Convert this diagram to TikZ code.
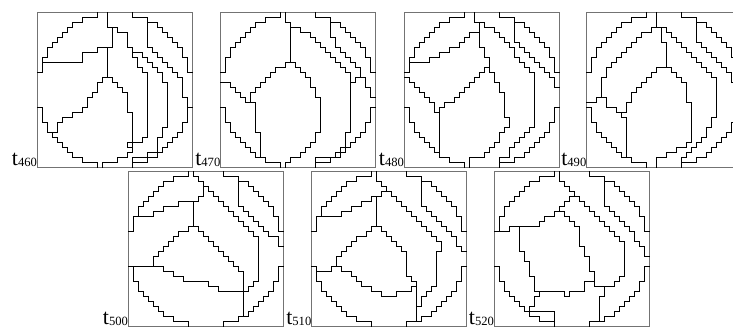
\documentclass[tikz,border=0pt]{standalone}
\usepackage{fontspec}
\setmainfont{Liberation Serif}
\tikzset{
  cell/.style={line width=.7pt,line cap=rect,line join=miter},
  frame/.style={draw=black!55,line width=.45pt},
  lbl/.style={anchor=south east,inner sep=0pt,font=\fontsize{11}{12}\selectfont},
  panel/.style={x=2.5pt,y=2.5pt}
}
% frame and digital disc of one panel
\newcommand\rim{%
  \draw[frame] (0,0) rectangle (31,31);
  \foreach \sx/\sy in {1/1,-1/1,1/-1,-1/-1}
    \draw[cell,shift={(15.5,15.5)},xscale=\sx,yscale=\sy] (-3.5,15.5) |- (-6.5,14.5) |- (-8.5,13.5) |- (-9.5,12.5) |- (-10.5,11.5) |- (-11.5,10.5) |- (-12.5,9.5) |- (-13.5,8.5) |- (-14.5,6.5) |- (-15.5,3.5);
}
\newcommand\tlabel[1]{\node[lbl] (t#1) at (0,0) {t\raisebox{-.5pt}{\fontsize{6.3}{7}\selectfont #1}};}

\begin{document}
\begin{tikzpicture}[x=.5pt,y=-.5pt]
\useasboundingbox (0,0) rectangle (733,329);

% t460
\begin{scope}[shift={(37.3,167.2)},panel]
\rim
\tlabel{460}
\draw[cell] (1,21) -- (9,21) |- (12,23) |- (15,24);
\draw[cell] (14,31) |- (15,28) -- (15,24);
\draw[cell] (14,24) -- (14,18);
\draw[cell] (14,18) -- (13,18) |- (12,17) |- (11,15) |- (10,14) |- (9,12) |- (7,11) |- (5,10) |- (4,9) |- (3,7);
\draw[cell] (14,18) -| (15,17) -| (16,16) -| (17,15) -| (18,14) -- (18,11) -| (19,4) |- (18,3) |- (16,2) |- (13,1) -- (13,0);
\draw[cell] (18,4) rectangle (19,5);
\draw[cell] (15,28) -| (16,27) -| (18,24) -| (19,22) -| (20,20) -| (21,19) -| (22,6) -| (21,5) -- (19,5);
\draw[cell] (19,23) -| (21,22) -| (22,21) -| (23,20) -| (24,19) -| (25,17) -| (26,16) -- (26,8) -| (25,6) -| (24,3) -| (22,2) -| (19,1);
\draw[cell] (22,30) -- (22,24) -| (23,23) -| (24,22) -| (25,21) -| (26,20) -| (27,19) -| (28,18) -| (29,14) -| (30,12);
\end{scope}

% t470
\begin{scope}[shift={(220.7,167.2)},panel]
\rim
\tlabel{470}
\draw[cell] (13,31) |- (14,29) -- (14,21);
\draw[cell] (14,21) -- (13,21) |- (11,20) |- (10,19) |- (9,18) |- (8,17) |- (7,16) |- (6,15) -- (6,13) -| (7,7) -| (8,2);
\draw[cell] (0,17) -| (2,16) -| (3,15) -| (4,14) -| (5,13) -- (6,13);
\draw[cell] (14,21) -| (15,20) -| (16,19) -| (17,18) -| (18,16) -| (19,14) -| (20,7) -| (19,5) -| (18,4) -| (17,3) -| (16,2) -| (14,1) -| (13,0);
\draw[cell] (14,28) -| (16,27) -| (18,26) -| (19,25) -| (20,24) -| (21,23) -| (22,22) -| (23,21) -| (24,20) -| (25,19) -| (26,17) -- (27,17) |- (28,18);
\draw[cell] (26,17) -- (26,7) -| (25,4) -| (24,3) -| (23,2) -- (19,2) -- (19,1);
\draw[cell] (22,30) -- (22,26) -| (23,24) -| (24,23) -| (25,22) -| (26,21) -| (27,20) -| (28,18) -| (29,16) -| (30,14) -- (31,14);
\end{scope}

% t480
\begin{scope}[shift={(404.3,167.2)},panel]
\rim
\tlabel{480}
\draw[cell] (14,31) |- (15,29) -- (15,24) -| (16,22) -| (17,20);
\draw[cell] (1,21) -- (5,21) |- (7,22) |- (9,23) |- (11,24) |- (12,25) |- (13,26) |- (15,27);
\draw[cell] (0,18) -| (1,17) -| (2,16) -| (3,15) -| (4,14) -| (5,13) -| (6,11) -- (7,11);
\draw[cell] (17,20) -- (16,20) |- (15,19) |- (14,18) |- (13,17) |- (12,16) |- (11,15) |- (10,14) |- (8,13) |- (7,12) -- (7,3);
\draw[cell] (17,20) -- (17,19) -| (18,17) -| (19,15) -| (20,10) -| (21,8) -| (20,7) -| (19,5) -| (18,4) -| (17,3) -| (16,2) -- (13,2) -- (13,0);
\draw[cell] (15,29) -| (16,28) -| (18,27) -| (19,26) -| (20,25) -| (21,24) -| (22,22) -| (23,21) -| (24,20) -| (25,19) -| (26,17) -- (26,8) -| (25,7) -| (24,6) -| (23,5) -| (22,4) -| (21,2) -- (19,2) -- (19,1);
\draw[cell] (22,30) -- (22,25) -| (23,24) -| (24,23) -| (25,22) -| (26,21) -| (27,20) -| (28,19) -| (29,18) -| (30,16) -- (31,16);
\end{scope}

% t490
\begin{scope}[shift={(586.7,167.2)},panel]
\rim
\tlabel{490}
\draw[cell] (14,31) |- (15,28) -- (15,25) -| (16,20);
\draw[cell] (14,28) -- (13,28) |- (11,27) |- (10,26) |- (9,25) |- (8,24) |- (7,23) |- (6,22) |- (5,21) |- (4,20) |- (3,18) |- (2,14) |- (0,13);
\draw[cell] (3,14) -| (4,12) -| (6,11) -- (7,11);
\draw[cell] (16,20) -- (14,20) |- (13,19) |- (12,18) |- (11,17) |- (10,16) |- (9,15) |- (8,13) |- (7,11) -- (7,10) -| (8,2);
\draw[cell] (16,20) -| (17,19) -| (18,18) -| (19,17) -| (20,13) -| (21,5) -| (20,4) -| (18,3) -| (16,2) -- (14,2) -- (14,0);
\draw[cell] (15,28) -| (16,27) -| (17,26) -| (18,25) -| (19,24) -| (20,23) -| (21,22) -| (22,21) -| (23,20) -| (24,19) -| (25,18) -| (26,10) -| (25,8) -| (24,6) -| (23,5) -| (22,4) -| (21,3) -| (20,2) -- (19,2) -- (19,1);
\draw[cell] (22,30) -- (22,25) -| (23,24) -| (24,23) -| (25,22) -| (26,21) -| (27,20) -| (28,19) -| (29,17) -| (30,15) -- (31,15);
\end{scope}

% t500
\begin{scope}[shift={(128.3,326.3)},panel]
\rim
\tlabel{500}
\draw[cell] (2,22) -- (5,22) |- (7,23) |- (10,24) |- (13,25);
\draw[cell] (13,20) -- (13,25) -| (14,26) -| (15,28);
\draw[cell] (13,31) |- (14,30) |- (15,29) |- (16,28) |- (17,27) |- (18,26) |- (19,25) |- (20,24) |- (21,23) |- (22,22) |- (23,21) |- (24,20) |- (25,19) |- (26,18) -- (26,9) -| (25,8) -| (24,7) -- (23,7);
\draw[cell] (13,20) -- (12,20) |- (10,19) |- (9,18) |- (8,17) |- (7,16) |- (6,15) |- (5,14) -- (5,12) -- (1,12);
\draw[cell] (5,12) -| (7,11) -| (9,10) -| (11,9) -| (16,8) -| (18,7) -- (23,7) -- (23,2);
\draw[cell] (13,20) -| (14,19) -| (15,18) -| (16,17) -| (17,16) -| (18,15) -| (19,14) -| (20,13) -| (21,12) -| (22,11) -| (23,7);
\draw[cell] (22,30) -- (22,24) -| (23,23) -| (24,22) -| (25,21) -| (26,20) -| (27,19) -| (28,18) -| (30,16) -- (31,16);
\end{scope}

% t510
\begin{scope}[shift={(311.7,326.3)},panel]
\rim
\tlabel{510}
\draw[cell] (2,22) -- (6,22) |- (8,23) |- (10,24) |- (12,25) |- (13,26);
\draw[cell] (13,20) -- (13,26) -| (14,27) -- (15,27);
\draw[cell] (13,31) |- (14,29) |- (15,28) |- (16,27) |- (17,26) |- (18,25) |- (19,24) |- (20,23) |- (21,22) |- (22,21) |- (23,20) |- (24,19) |- (25,18) |- (26,17) -- (26,15) -- (25,15) -- (25,8) -| (24,7) -| (23,6) -| (22,4) -- (21,4);
\draw[cell] (13,20) -- (12,20) |- (11,19) |- (9,18) |- (8,17) |- (7,16) |- (6,15) |- (5,14) -- (5,12) -- (4,12) -- (4,11) -- (1,11);
\draw[cell] (5,12) -| (6,11) -| (8,10) -| (9,9) -| (10,8) -| (12,7) -| (14,6) -- (17,6) |- (20,7) |- (21,8);
\draw[cell] (13,20) -| (14,19) -| (15,18) -| (16,17) -| (17,16) -| (18,15) -| (19,14) -- (19,10) -| (20,9) -| (21,8) -- (21,1);
\draw[cell] (22,30) -- (22,24) -| (23,23) -| (24,22) -| (25,21) -| (26,20) -| (27,19) -| (28,18) -| (29,16) -| (30,15) -- (31,15);
\end{scope}

% t520
\begin{scope}[shift={(494.3,326.3)},panel]
\rim
\tlabel{520}
\draw[cell] (13,31) |- (14,29) |- (15,28) |- (16,27) |- (17,26) |- (18,25) |- (19,24) |- (20,23) |- (21,22) |- (22,21) |- (23,20) |- (24,19) |- (25,18) |- (26,17) -- (26,10) -| (25,9) -| (24,8) -- (22,8);
\draw[cell] (0,19) -- (3,19) |- (9,20) |- (10,21) |- (12,22) |- (13,23) |- (14,24) |- (15,25) |- (16,26);
\draw[cell] (5,20) -- (5,15) -| (6,13) -| (7,10) -| (8,7) -- (14,7) -- (14,6) -- (15,6) -- (15,7) -- (18,7) -- (18,9) -- (20,9);
\draw[cell] (13,23) -| (14,22) -| (15,21) -| (16,20) -| (17,16) -| (18,14) -| (19,11) -| (20,9) -- (20,8) -- (22,8) -- (22,6) -- (21,6) -- (21,1);
\draw[cell] (9,7) |- (8,6) |- (7,4) -- (7,3) -- (12,3) -- (12,1);
\draw[cell] (22,30) -- (22,24) -| (23,23) -| (24,22) -| (25,21) -| (26,20) -| (27,19) -| (28,17) -| (29,16) -| (30,14) -- (31,14);
\end{scope}
\end{tikzpicture}
\end{document}
